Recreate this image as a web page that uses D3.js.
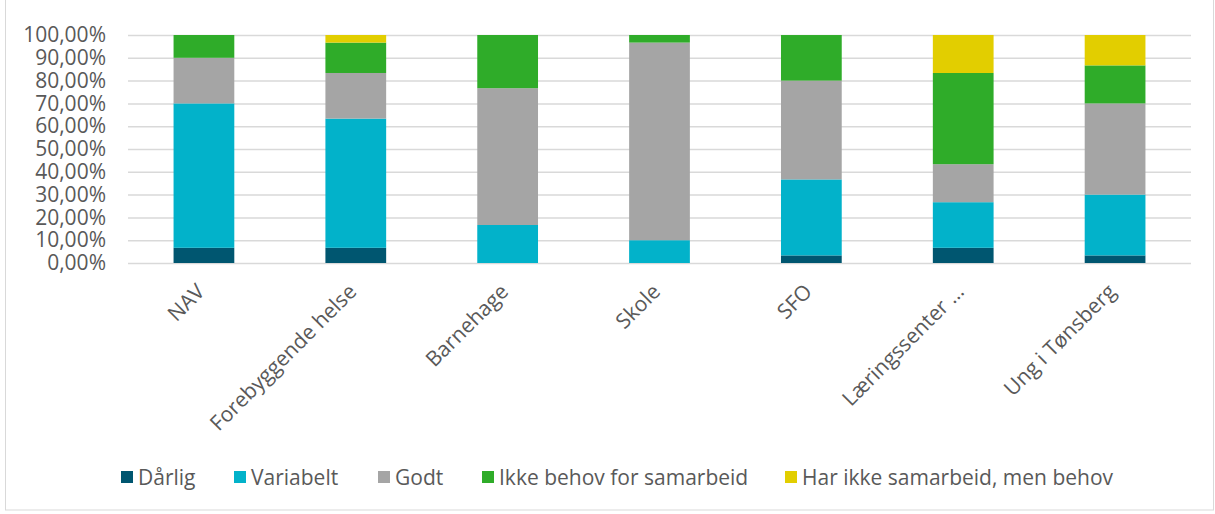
<!DOCTYPE html>
<html>
<head>
<meta charset="utf-8">
<script src="https://cdn.jsdelivr.net/npm/d3@7"></script>
<style>
  body { margin: 0; background: #fff; }
  text { font-family: 'Open Sans', sans-serif; fill: #595959; }
</style>
</head>
<body>
<div id="chart"></div>
<script>
const categories = ['NAV', 'Forebyggende helse', 'Barnehage', 'Skole', 'SFO', 'Læringssenter …', 'Ung i Tønsberg']
const seriesNames = ['Dårlig', 'Variabelt', 'Godt', 'Ikke behov for samarbeid', 'Har ikke samarbeid, men behov']
const darlig = [6.67, 6.67, 0, 0, 3.33, 6.67, 3.33]
const variabelt = [63.33, 56.67, 16.67, 10, 33.33, 20, 26.67]
const godt = [20, 20, 60, 86.67, 43.33, 16.67, 40]
const ikkeBehov = [10, 13.33, 23.33, 3.33, 20, 40, 16.67]
const harIkke = [0, 3.33, 0, 0, 0, 16.67, 13.33]
const yTicks = [0, 10, 20, 30, 40, 50, 60, 70, 80, 90, 100]
const colors = ['#005670', '#02b2ca', '#a5a5a5', '#2fac29', '#e2ce00']

const width = 1215
const height = 514
const margin = { top: 35, right: 24, bottom: 251, left: 128 }
const innerW = width - margin.left - margin.right
const innerH = height - margin.top - margin.bottom

const seriesValues = [darlig, variabelt, godt, ikkeBehov, harIkke]
const table = categories.map((c, i) => {
  const row = { cat: c }
  seriesNames.forEach((s, j) => (row[s] = seriesValues[j][i]))
  return row
})
const stacked = d3.stack().keys(seriesNames)(table)

const svg = d3.select('#chart').append('svg').attr('width', width).attr('height', height)

// chart border
svg.append('rect')
  .attr('x', 5.5).attr('y', -2).attr('width', width - 7).attr('height', 512)
  .attr('fill', 'none').attr('stroke', '#d9d9d9')

const g = svg.append('g').attr('transform', `translate(${margin.left},${margin.top})`)

const x = d3.scaleBand().domain(categories).range([0, innerW]).paddingInner(0.6).paddingOuter(0.3)
const y = d3.scaleLinear().domain([0, 100]).range([innerH, 0])

// gridlines + y labels
g.append('g')
  .call(d3.axisLeft(y).tickValues(yTicks).tickSize(-innerW).tickPadding(22)
    .tickFormat((d) => d3.format('.2f')(d).replace('.', ',') + '%'))
  .call((a) => a.select('.domain').remove())
  .call((a) => a.selectAll('line').attr('stroke', '#d9d9d9').attr('stroke-width', 1.5))
  .call((a) => a.selectAll('text').style('font-size', '21px').attr('fill', '#595959'))

// bars
g.selectAll('.series')
  .data(stacked)
  .join('g')
  .attr('fill', (d, i) => colors[i])
  .selectAll('rect')
  .data((d) => d)
  .join('rect')
  .attr('x', (d) => x(d.data.cat))
  .attr('width', x.bandwidth())
  .attr('y', (d) => y(d[1]))
  .attr('height', (d) => y(d[0]) - y(d[1]))

// x labels
g.append('g')
  .selectAll('text')
  .data(categories)
  .join('text')
  .attr('transform', (d) => `translate(${x(d) + x.bandwidth() / 2 + 2},${innerH + 30}) rotate(-45)`)
  .attr('text-anchor', 'end')
  .style('font-size', '21px')
  .text((d) => d)

// legend
const legendX = [121, 234, 378, 482, 785]
const legend = svg.append('g').attr('transform', 'translate(0,478)')
seriesNames.forEach((s, i) => {
  legend.append('rect').attr('x', legendX[i]).attr('y', -7).attr('width', 12).attr('height', 12).attr('fill', colors[i])
  legend.append('text').attr('x', legendX[i] + 17).attr('y', 0).attr('dy', '0.35em')
    .style('font-size', '21px').text(s)
})
</script>
</body>
</html>
